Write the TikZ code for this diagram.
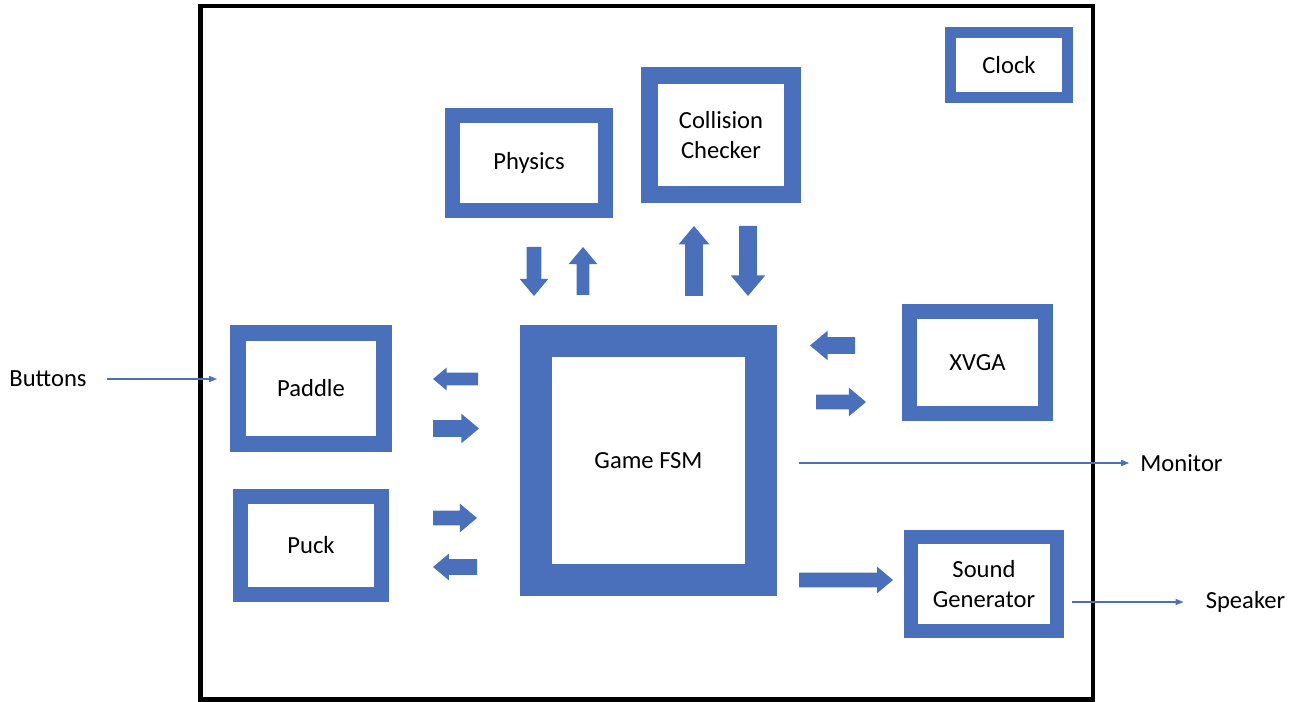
\documentclass[tikz,border=0pt]{standalone}
\usepackage{fontspec}
\setmainfont{Carlito}
\usepackage{xcolor}
\definecolor{xblue}{HTML}{4A70BC}
\usepackage{tikz}
\usetikzlibrary{arrows.meta, shapes.arrows}
\tikzset{
  %% Styles %%
  block/.style = {
    draw=xblue, line width=#1, fill=white, align=center,
    font=\fontsize{14}{17}\selectfont, inner sep=0pt,
  },
  label/.style = {font=\fontsize{14}{17}\selectfont, inner sep=0pt},
  blockarrow/.style n args = {3}{
    single arrow, fill=xblue, draw=none, outer sep=0pt, anchor=tail,
    minimum height=#1, inner sep=#2, single arrow head extend=#3,
    single arrow tip angle=80,
  },
  signal/.style = {
    draw=xblue, line width=0.6pt, -{Triangle[length=4.5pt, width=3.5pt]},
  },
}
\begin{document}
\begin{tikzpicture}[x=0.02cm, y=-0.02cm]
  \useasboundingbox (0,0) rectangle (1306,702);

  % frame
  \draw[line width=0.09cm] (200.5,6) rectangle (1093,699.5);

  % blocks
  \node[block=0.22cm, minimum width=2.34cm, minimum height=1.30cm] (clock) at (1009,65) {Clock};
  \node[block=0.30cm, minimum width=3.06cm, minimum height=1.90cm] (physics) at (529,163) {Physics};
  \node[block=0.34cm, minimum width=2.86cm, minimum height=2.38cm] (collision) at (721,135) {Collision\\Checker};
  \node[block=0.32cm, minimum width=2.92cm, minimum height=2.22cm] (paddle) at (311,388.5) {Paddle};
  \node[block=0.30cm, minimum width=2.82cm, minimum height=1.96cm] (puck) at (311,545.5) {Puck};
  \node[block=0.64cm, minimum width=4.50cm, minimum height=4.78cm] (fsm) at (648.5,460.5) {Game FSM};
  \node[block=0.30cm, minimum width=2.72cm, minimum height=2.04cm] (xvga) at (977.5,362.5) {XVGA};
  \node[block=0.28cm, minimum width=2.92cm, minimum height=1.88cm] (sound) at (984,584) {Sound\\Generator};

  % block arrows (placed at their tails)
  \foreach \nm/\pos/\ang/\len/\sh/\hd in {
      phystofsm/{534,247}/-90/0.98cm/0.14cm/0.14cm,
      fsmtophys/{583,295}/90/0.96cm/0.12cm/0.16cm,
      fsmtocoll/{694,296}/90/1.40cm/0.17cm/0.13cm,
      colltofsm/{748,226}/-90/1.40cm/0.17cm/0.17cm,
      fsmtopad/{478,379}/180/0.90cm/0.12cm/0.10cm,
      padtofsm/{433,428.5}/0/0.92cm/0.16cm/0.13cm,
      pucktofsm/{433,518}/0/0.88cm/0.14cm/0.14cm,
      fsmtopuck/{477,567}/180/0.88cm/0.15cm/0.11cm,
      xvgatofsm/{855,345.5}/180/0.90cm/0.16cm/0.13cm,
      fsmtoxvga/{816,402}/0/1.00cm/0.14cm/0.14cm,
      fsmtosnd/{799,580}/0/1.88cm/0.14cm/0.12cm}
    \node[blockarrow={\len}{\sh}{\hd}, rotate=\ang] (\nm) at (\pos) {};

  % outside signals
  \node[label] (buttons) at (48,379) {Buttons};
  \node[label] (monitor) at (1181.5,463) {Monitor};
  \node[label] (speaker) at (1245.5,602) {Speaker};

  \draw[signal, shorten <=0.40cm, shorten >=0.26cm] (buttons) -- (buttons -| paddle.west);
  \draw[signal, shorten <=0.44cm, shorten >=0.22cm] (monitor -| fsm.east) -- (monitor);
  \draw[signal, shorten <=0.16cm, shorten >=0.44cm] (speaker -| sound.east) -- (speaker);
\end{tikzpicture}
\end{document}
